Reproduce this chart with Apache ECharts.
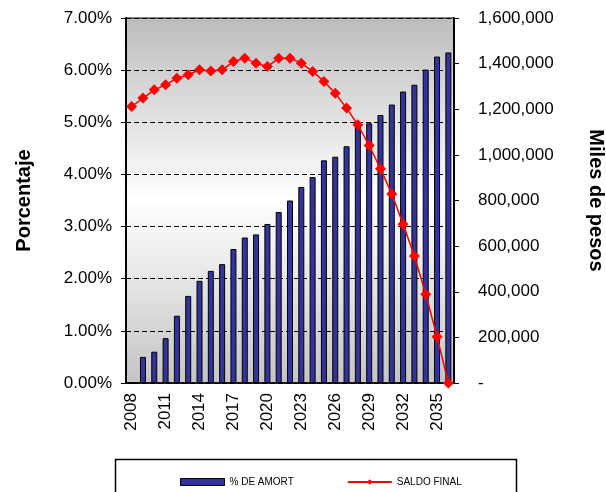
<!DOCTYPE html>
<html>
<head>
<meta charset="utf-8">
<script src="https://cdn.jsdelivr.net/npm/echarts@6/dist/echarts.min.js"></script>
<style>
html,body{margin:0;padding:0;background:#fff;}
#chart{width:606px;height:492px;}
</style>
</head>
<body>
<div id="chart"></div>
<script>
const years = ['2008','2009','2010','2011','2012','2013','2014','2015','2016','2017','2018','2019','2020','2021','2022','2023','2024','2025','2026','2027','2028','2029','2030','2031','2032','2033','2034','2035','2036'];
const pctAmort = [0, 0.50, 0.60, 0.86, 1.29, 1.67, 1.96, 2.15, 2.28, 2.57, 2.79, 2.85, 3.05, 3.28, 3.50, 3.76, 3.95, 4.27, 4.34, 4.54, 4.92, 4.98, 5.14, 5.34, 5.59, 5.72, 6.01, 6.26, 6.34];
const saldoFinal = [1212000, 1249000, 1285000, 1307000, 1336000, 1351000, 1373000, 1368000, 1373000, 1409000, 1424000, 1402000, 1387000, 1424000, 1424000, 1402000, 1366000, 1322000, 1270000, 1205000, 1132000, 1041000, 939000, 829000, 696000, 557000, 389000, 203000, 0];
const seriesNames = ['% DE AMORT', 'SALDO FINAL'];
const axisNames = ['Porcentaje', 'Miles de pesos'];

const chart = echarts.init(document.getElementById('chart'));
const font = 'Liberation Sans, Arial, sans-serif';
chart.setOption({
  animation: false,
  textStyle: {fontFamily: font},
  grid: {
    left: 126, right: 152, top: 18, bottom: 109,
    containLabel: false,
    outerBoundsMode: 'none',
    show: true,
    borderColor: '#000', borderWidth: 1,
    backgroundColor: {
      type: 'linear', x: 0, y: 0, x2: 0, y2: 1,
      colorStops: [
        {offset: 0, color: '#bdbdbd'},
        {offset: 0.5, color: '#ffffff'},
        {offset: 1, color: '#c4c4c4'}
      ]
    }
  },
  legend: {
    left: 175, top: 472,
    itemWidth: 44, itemHeight: 7, itemGap: 53,
    textStyle: {fontSize: 10, color: '#000', fontFamily: font},
    data: [
      {name: seriesNames[0], icon: 'rect', itemStyle: {color: '#333399', borderColor: '#000', borderWidth: 1}},
      {name: seriesNames[1]}
    ]
  },
  graphic: [{
    type: 'rect', left: 113, top: 457,
    shape: {width: 401, height: 45},
    style: {fill: 'none', stroke: '#000', lineWidth: 1.5},
    silent: true
  }],
  xAxis: {
    type: 'category',
    data: years,
    boundaryGap: true,
    axisLine: {lineStyle: {color: '#000', width: 1.5}},
    axisTick: {interval: 0, length: 5, lineStyle: {color: '#000'}},
    axisLabel: {interval: 2, rotate: 90, fontSize: 17, color: '#000', margin: 10}
  },
  yAxis: [{
    type: 'value', min: 0, max: 7, interval: 1,
    name: axisNames[0], nameLocation: 'middle', nameGap: 92,
    nameTextStyle: {fontSize: 20, fontWeight: 'bold', color: '#000'},
    axisLine: {show: true, lineStyle: {color: '#000', width: 2}},
    axisTick: {show: true, length: 5, lineStyle: {color: '#000'}},
    axisLabel: {fontSize: 17, color: '#000', margin: 14, formatter: v => v.toFixed(2) + '%'},
    splitLine: {show: true, lineStyle: {color: '#000', type: [5, 3], width: 1}}
  }, {
    type: 'value', min: 0, max: 1600000, interval: 200000, position: 'right',
    name: axisNames[1], nameLocation: 'middle', nameGap: 132, nameRotate: -90,
    nameTextStyle: {fontSize: 20, fontWeight: 'bold', color: '#000'},
    axisLine: {show: true, lineStyle: {color: '#000', width: 2}},
    axisTick: {show: true, length: 5, lineStyle: {color: '#000'}},
    axisLabel: {fontSize: 17, color: '#000', margin: 24,
      formatter: v => v === 0 ? '-' : v.toLocaleString('en-US')},
    splitLine: {show: false}
  }],
  series: [{
    name: seriesNames[0], type: 'bar', yAxisIndex: 0,
    data: pctAmort, barWidth: 6,
    itemStyle: {color: '#333399', borderColor: '#000', borderWidth: 1}
  }, {
    name: seriesNames[1], type: 'line', yAxisIndex: 1,
    data: saldoFinal,
    showAllSymbol: true,
    symbol: 'diamond', symbolSize: 11,
    lineStyle: {color: '#ff0000', width: 1.5},
    itemStyle: {color: '#ff0000'}
  }]
});
</script>
</body>
</html>
